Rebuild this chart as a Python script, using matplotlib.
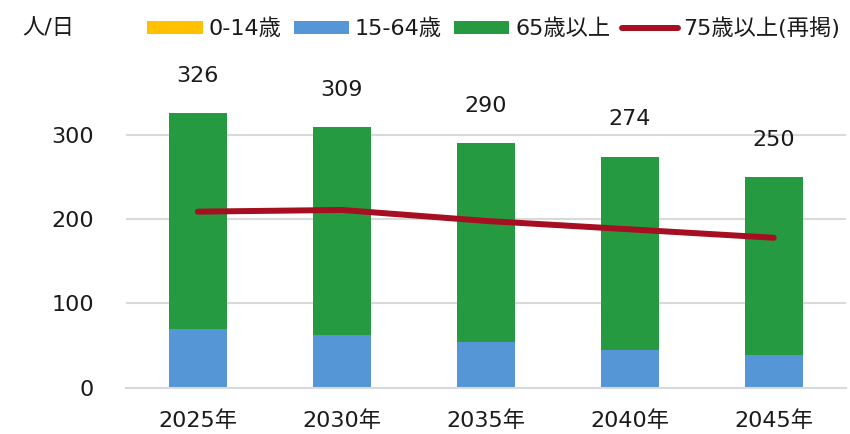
import matplotlib
matplotlib.use("Agg")
import matplotlib.pyplot as plt
import numpy as np

plt.rcParams['font.family'] = ['DejaVu Sans', 'Noto Sans CJK JP']

years = ["2025年", "2030年", "2035年", "2040年", "2045年"]
totals = [326, 309, 290, 274, 250]
age_0_14 = [0, 0, 0, 0, 0]
age_15_64 = [70, 62, 54, 45, 39]
age_65_plus = [t - a - b for t, a, b in zip(totals, age_0_14, age_15_64)]
age_75_plus = [209, 211, 198, 188, 178]

c_young = '#FFC000'
c_work = '#5597D6'
c_old = '#259A40'
c_line = '#A50F21'
c_grid = '#D9D9D9'
c_text = '#1A1A1A'

fig = plt.figure(figsize=(8.5, 4.34), dpi=100)
ax = fig.add_axes([0.148, 0.1067, 0.847, 0.6793])

x = np.arange(len(years))
w = 0.4
b1 = ax.bar(x, age_0_14, w, color=c_young, label='0-14歳', zorder=2)
b2 = ax.bar(x, age_15_64, w, bottom=age_0_14, color=c_work, label='15-64歳', zorder=2)
bottom2 = [a + b for a, b in zip(age_0_14, age_15_64)]
b3 = ax.bar(x, age_65_plus, w, bottom=bottom2, color=c_old, label='65歳以上', zorder=2)
l1, = ax.plot(x, age_75_plus, color=c_line, lw=4.3, solid_capstyle='round',
              label='75歳以上(再掲)', zorder=3)

for xi, t in zip(x, totals):
    ax.annotate(str(t), (xi, t), xytext=(0, 27), textcoords='offset points',
                ha='center', va='center', fontsize=16, color=c_text,
                annotation_clip=False)

ax.set_xlim(-0.5, 4.5)
ax.set_ylim(0, 350)
ax.set_yticks([0, 100, 200, 300])
ax.set_xticks(x)
ax.set_xticklabels(years)
ax.tick_params(axis='both', length=0, labelsize=16, colors=c_text)
ax.tick_params(axis='y', pad=23)
ax.tick_params(axis='x', pad=16)
ax.grid(axis='y', color=c_grid, lw=1.5, zorder=0)
ax.set_axisbelow(True)
for s in ['top', 'right', 'left']:
    ax.spines[s].set_visible(False)
ax.spines['bottom'].set_color(c_grid)
ax.spines['bottom'].set_linewidth(1.5)

fig.text(22 / 850, 0.935, '人/日', fontsize=16, color=c_text, va='center', ha='left')
fig.legend(handles=[b1, b2, b3, l1], loc='center', bbox_to_anchor=(0.581, 0.935),
           ncol=4, frameon=False, fontsize=16, handlelength=2.5, handleheight=0.55,
           handletextpad=0.25, columnspacing=0.55, labelcolor=c_text)

fig.savefig('out.png', dpi=100)
